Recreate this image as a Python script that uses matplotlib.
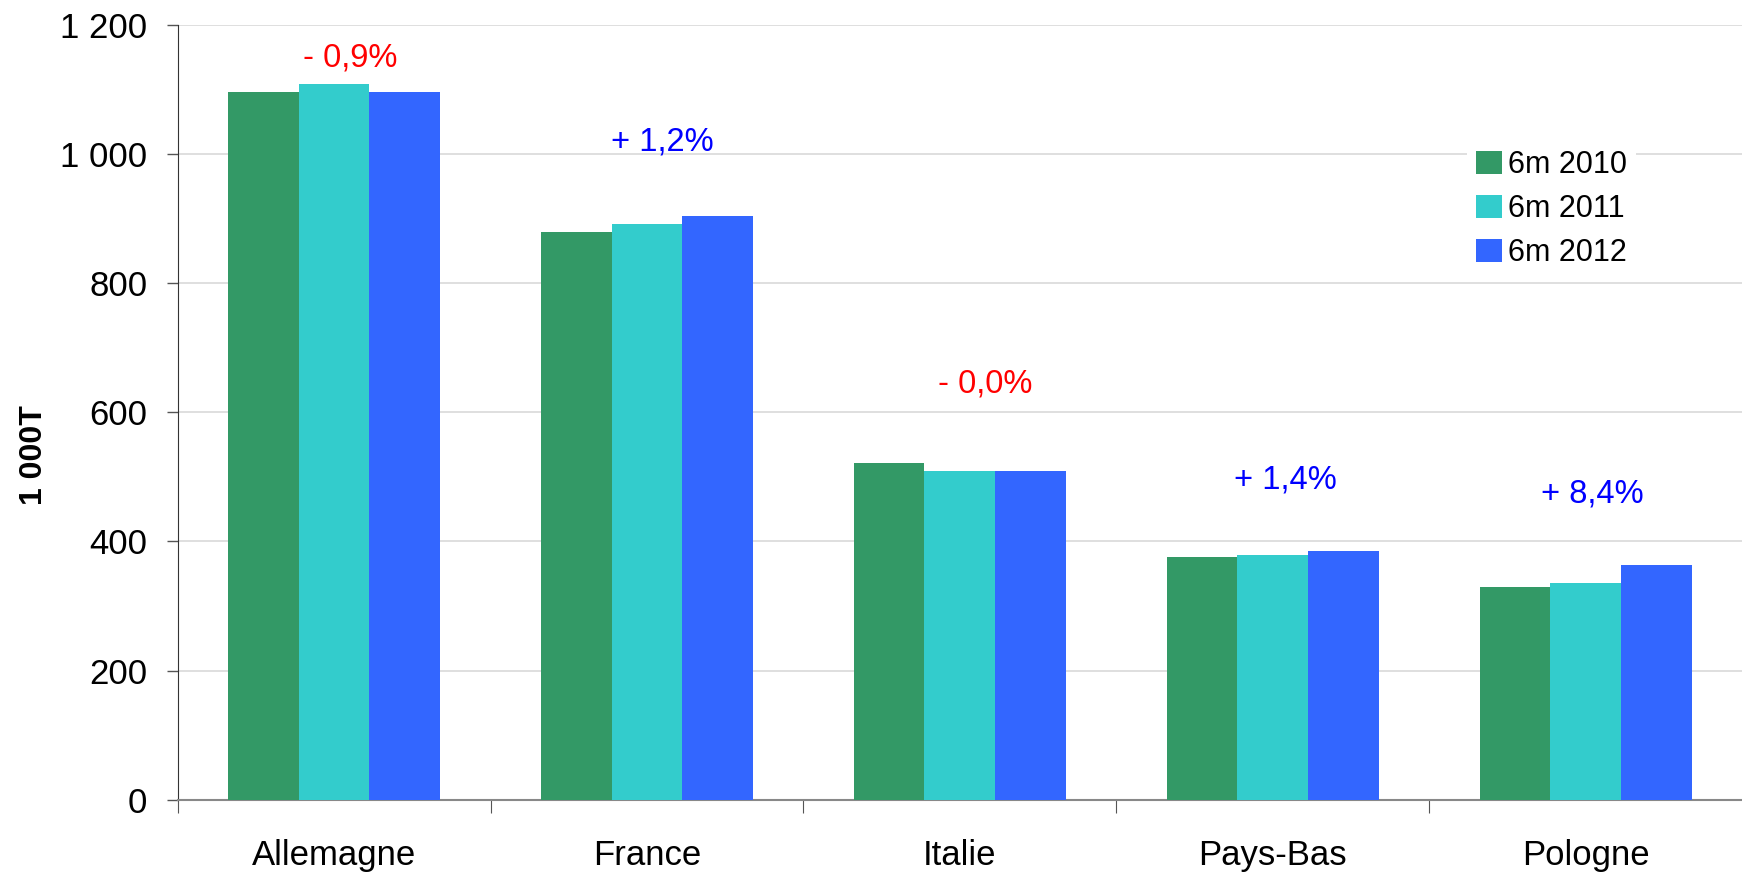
import numpy as np
import matplotlib.pyplot as plt
from matplotlib.ticker import FuncFormatter

plt.rcParams['font.family'] = ['Liberation Sans', 'DejaVu Sans']

countries = ['Allemagne', 'France', 'Italie', 'Pays-Bas', 'Pologne']
series = ['6m 2010', '6m 2011', '6m 2012']
v2010 = [1095, 879, 521, 376, 329]
v2011 = [1108, 891, 509, 379, 336]
v2012 = [1095, 903, 509, 385, 363]
changes = ['- 0,9%', '+ 1,2%', '- 0,0%', '+ 1,4%', '+ 8,4%']

colors = ['#339966', '#33CCCC', '#3366FF']
# label placement (data units) as in the original
lab_y = [1148, 1018, 643, 495, 473]
lab_dx = [0.05, 0.05, 0.08, 0.04, 0.02]

fig = plt.figure(figsize=(17.42, 8.77), dpi=100)
ax = fig.add_axes([0.102, 0.088, 0.898, 0.884])

x = np.arange(len(countries))
w = 0.226
for i, (vals, c, s) in enumerate(zip([v2010, v2011, v2012], colors, series)):
    ax.bar(x + (i - 1) * w, vals, w, color=c, label=s, zorder=3)

for i, t in enumerate(changes):
    col = '#FF0000' if t.startswith('-') else '#0000FF'
    ax.text(x[i] + lab_dx[i], lab_y[i], t, color=col, fontsize=23.5,
            ha='center', va='center')

ax.set_xlim(-0.5, len(countries) - 0.5)
ax.set_ylim(0, 1200)
ax.set_yticks(range(0, 1201, 200))
ax.yaxis.set_major_formatter(FuncFormatter(lambda v, p: f'{int(v):,}'.replace(',', ' ')))
ax.grid(axis='y', color='#d9d9d9', lw=1.2, zorder=0)

ax.set_xticks(np.arange(len(countries)) - 0.5)
ax.set_xticklabels([])
ax.set_xticks(x, minor=True)
ax.set_xticklabels(countries, minor=True)
ax.tick_params(axis='x', which='major', length=9, width=0.8, color='#555555')
ax.tick_params(axis='x', which='minor', length=0, pad=28, labelsize=25)
ax.tick_params(axis='y', length=8, width=1, color='#555555', pad=14, labelsize=25)

for s in ['top', 'right']:
    ax.spines[s].set_visible(False)
ax.spines['left'].set_color('#333333')
ax.spines['bottom'].set_color('#888888')
ax.spines['bottom'].set_linewidth(1.5)

ax.set_ylabel('1 000T', fontsize=23, fontweight='bold')
ax.yaxis.set_label_coords(-0.082, 0.445)

leg = ax.legend(loc='upper left', bbox_to_anchor=(0.824, 0.85), frameon=True,
                fontsize=22, handlelength=0.85, handleheight=0.75,
                handletextpad=0.2, labelspacing=0.46, borderpad=0.3,
                borderaxespad=0)
leg.get_frame().set_edgecolor('none')
leg.get_frame().set_facecolor('white')
leg.get_frame().set_alpha(1)
leg.get_frame().set_boxstyle('square', pad=0)
leg.set_zorder(5)

fig.savefig('out.png', dpi=100)
